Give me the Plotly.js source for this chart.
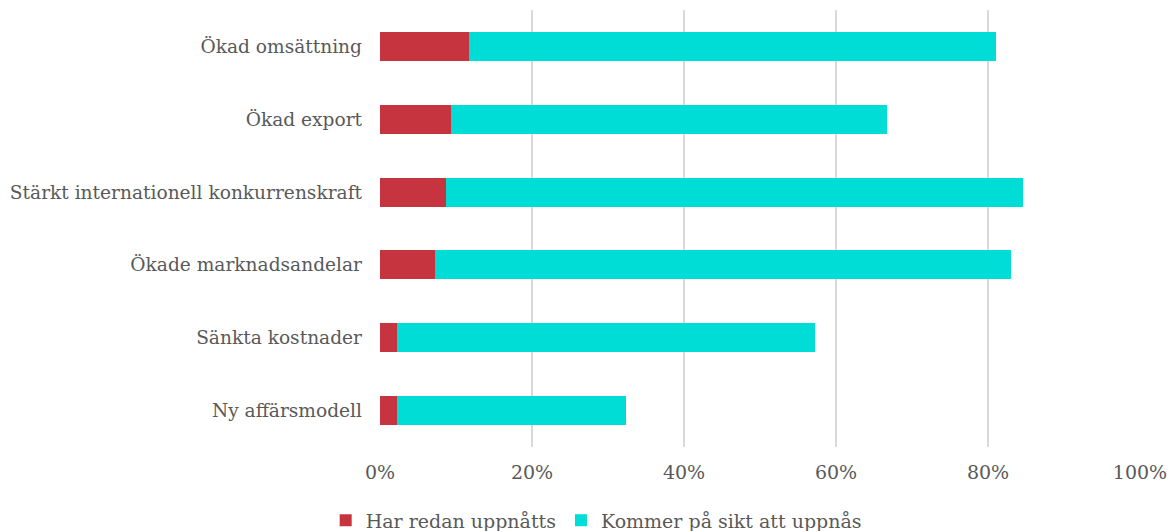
<!DOCTYPE html>
<html><head><meta charset="utf-8">
<script src="https://cdn.plot.ly/plotly-3.0.1.min.js"></script>
<style>html,body{margin:0;padding:0;background:#fff}#chart{width:1169px;height:531px}</style>
</head><body><div id="chart"></div>
<script>
const categories = ["Ökad omsättning","Ökad export","Stärkt internationell konkurrenskraft","Ökade marknadsandelar","Sänkta kostnader","Ny affärsmodell"];
const redanUppnatts = [11.7, 9.3, 8.7, 7.2, 2.2, 2.2];
const pasikt = [69.3, 57.4, 75.9, 75.8, 55.0, 30.2];
const seriesNames = ["Har redan uppnåtts","Kommer på sikt att uppnås"];
const tickVals = [0,20,40,60,80,100];
const tickText = ["0%","20%","40%","60%","80%","100%"];

const font = {family:"DejaVu Serif, Liberation Serif, serif", color:"#595959", size:19};
const data = [
 {type:"bar", orientation:"h", y:categories, x:redanUppnatts, name:seriesNames[0], marker:{color:"#C5343F"}, width:0.4, hoverinfo:"x+y"},
 {type:"bar", orientation:"h", y:categories, x:pasikt, name:seriesNames[1], marker:{color:"#00DCD6"}, width:0.4, hoverinfo:"x+y"}
];
const layout = {
 width:1169, height:531, barmode:"stack", font:font,
 paper_bgcolor:"#fff", plot_bgcolor:"#fff",
 margin:{l:380, r:29, t:10, b:84, autoexpand:false},
 xaxis:{range:[0,100], tickvals:tickVals, ticktext:tickText, showgrid:true, gridcolor:"#d9d9d9", gridwidth:1.5, zeroline:false, showline:false, ticks:"", ticklen:0, tickfont:{size:19}, ticklabelstandoff:12, tickangle:0, automargin:false},
 yaxis:{autorange:"reversed", showgrid:false, zeroline:false, ticks:"", tickfont:{size:18.6}, ticklabelstandoff:17, automargin:false},
 legend:{orientation:"h", xref:"container", x:0.51, xanchor:"center", yref:"container", y:0.02, yanchor:"middle", font:{size:19}, itemwidth:30, traceorder:"normal"},
 showlegend:true
};
Plotly.newPlot("chart", data, layout, {displayModeBar:false, staticPlot:true});
</script></body></html>
